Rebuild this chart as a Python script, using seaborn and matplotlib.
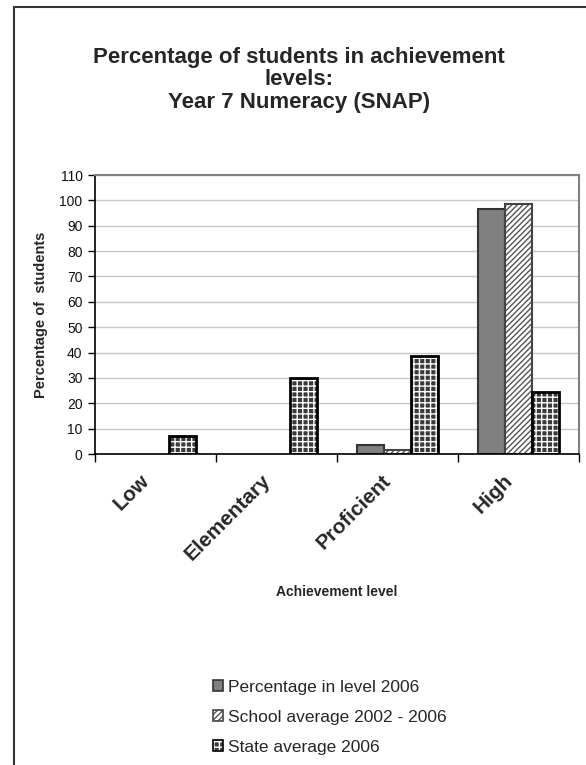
import pandas as pd
import matplotlib
matplotlib.use("Agg")
import matplotlib.pyplot as plt
import matplotlib.transforms as mtransforms
import seaborn as sns
from matplotlib.lines import Line2D
from matplotlib.patches import Patch

levels = ["Low", "Elementary", "Proficient", "High"]
series_names = ["Percentage in level 2006", "School average 2002 - 2006", "State average 2006"]
pct_2006 = [0, 0, 3.5, 96.5]
school_avg = [0, 0, 1.5, 98.5]
state_avg = [7, 30, 38.5, 24.5]
y_ticks = list(range(0, 111, 10))

df = pd.DataFrame({
    "level": levels * 3,
    "series": [s for s in series_names for _ in levels],
    "value": pct_2006 + school_avg + state_avg,
})

sns.set_theme(style="white")
plt.rcParams["font.family"] = ["Liberation Sans", "DejaVu Sans"]
plt.rcParams["hatch.linewidth"] = 1.0

fig = plt.figure(figsize=(5.86, 7.65), dpi=100)
ax = fig.add_axes([95 / 586, 1 - 454 / 765, 484 / 586, 279 / 765])

sns.barplot(data=df, x="level", y="value", hue="series", order=levels,
            hue_order=series_names, width=0.67, gap=0, ax=ax,
            palette=["#808080", "white", "#333333"], saturation=1, legend=False)

styles = [
    dict(fc="#808080", ec="#333333", hatch=None, lw=1.5, hc=None),
    dict(fc="white", ec="#444444", hatch="//////", lw=1.5, hc="#555555"),
    dict(fc="#3a3a3a", ec="black", hatch="+++", lw=2.0, hc="white"),
]
for cont, st in zip(ax.containers, styles):
    for bar in cont:
        bar.set_facecolor(st["fc"])
        bar.set_edgecolor(st["ec"])
        bar.set_linewidth(st["lw"] if bar.get_height() > 0 else 0)
        if st["hatch"]:
            bar.set_hatch(st["hatch"])
            bar._hatch_color = matplotlib.colors.to_rgba(st["hc"])

ax.set_ylim(0, 110)
ax.set_xlim(-0.5, 3.5)
ax.set_yticks(y_ticks)
ax.yaxis.grid(True, color="#c8c8c8", lw=1)
ax.set_axisbelow(True)
ax.tick_params(axis="y", left=True, length=5, width=1, color="black",
               labelsize=10, pad=4, labelcolor="#111111")
ax.set_xticks(range(len(levels)))
ax.set_xticklabels(levels, rotation=45, ha="right", rotation_mode="anchor",
                   fontsize=15, fontweight="bold")
ax.tick_params(axis="x", bottom=False, pad=6)
shift = mtransforms.ScaledTranslation(-16 / 100, 0, fig.dpi_scale_trans)
for lab in ax.get_xticklabels():
    lab.set_transform(lab.get_transform() + shift)
ax.set_xticks([-0.5, 0.5, 1.5, 2.5, 3.5], minor=True)
ax.tick_params(axis="x", which="minor", bottom=True, length=6, width=1, color="black")

for side in ["top", "right"]:
    ax.spines[side].set_color("#808080")
    ax.spines[side].set_linewidth(1.5)
for side in ["left", "bottom"]:
    ax.spines[side].set_color("black")
    ax.spines[side].set_linewidth(1.2)

ax.set_xlabel("Achievement level", fontsize=10, fontweight="bold")
ax.set_ylabel("Percentage of  students", fontsize=10.5, fontweight="bold")
ax.xaxis.set_label_coords(0.5, -0.47)
ax.yaxis.set_label_coords(-0.097, 0.5)

fig.text(0.51, 1 - 47 / 765, "Percentage of students in achievement\nlevels:\nYear 7 Numeracy (SNAP)",
         ha="center", va="top", fontsize=16, fontweight="bold", linespacing=1.08)

# outer chart frame (cropped at right and bottom)
fig.add_artist(Line2D([14 / 586, 14 / 586], [0, 1 - 7 / 765], transform=fig.transFigure,
                      color="#333333", lw=1.5))
fig.add_artist(Line2D([14 / 586, 1], [1 - 7 / 765, 1 - 7 / 765], transform=fig.transFigure,
                      color="#333333", lw=1.5))

leg_handles = [Patch(facecolor=st["fc"], edgecolor=st["ec"], hatch=st["hatch"], lw=1.2, label=name)
               for st, name in zip(styles, series_names)]
leg = fig.legend(handles=leg_handles, loc="upper left",
                 bbox_to_anchor=(206 / 586, 1 - 673 / 765), frameon=False,
                 fontsize=12.5, handlelength=0.6, handleheight=0.6, handletextpad=0.25,
                 labelspacing=0.86, borderaxespad=0)
for p, st in zip(leg.get_patches(), styles):
    if st["hc"]:
        p._hatch_color = matplotlib.colors.to_rgba(st["hc"])

fig.savefig("out.png", dpi=100)
